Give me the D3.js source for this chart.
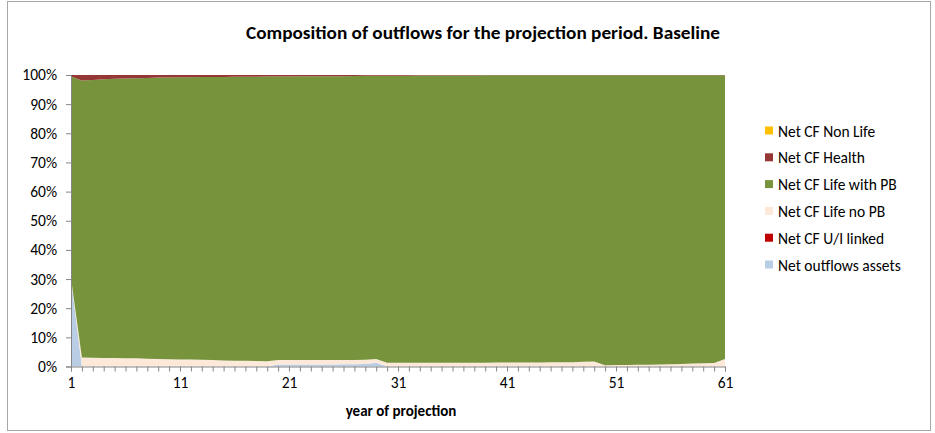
<!DOCTYPE html>
<html><head><meta charset="utf-8">
<script src="https://cdn.jsdelivr.net/npm/d3@7/dist/d3.min.js"></script>
<style>
body{margin:0;background:#fff;}
text{font-family:Carlito,Calibri,Lato,sans-serif;fill:#000;}
</style></head>
<body><svg id="c" width="935" height="433"></svg>
<script>
const years = d3.range(1, 62);
const xTickLabels = [1, 11, 21, 31, 41, 51, 61];
const yTickValues = [0, 0.1, 0.2, 0.3, 0.4, 0.5, 0.6, 0.7, 0.8, 0.9, 1.0];
const seriesNames = ["Net outflows assets", "Net CF U/I linked", "Net CF Life no PB", "Net CF Life with PB", "Net CF Health", "Net CF Non Life"];

const netOutflowsAssets = [30,0,0,0,0,0,0,0,0,0, 0,0,0,0,0,0,0,0,0,0.7, 0.7,0.7,0.7,0.7,0.7,0.8,0.8,0.9,1.3,0, 0,0,0,0,0,0,0,0,0,0, 0,0,0,0,0,0,0,0,0,0, 0,0,0,0,0,0,0,0,0,0, 0];
const netCFUILinked = [0.1,0,0,0,0,0,0,0,0,0, 0,0,0,0,0,0,0,0,0,0, 0,0,0,0,0,0,0,0,0,0, 0,0,0,0,0,0,0,0,0,0, 0,0,0,0,0,0,0,0,0,0, 0,0,0,0,0,0,0,0,0,0, 0];
const netCFLifeNoPB = [0.3,3.1,3.0,2.9,2.9,2.8,2.8,2.7,2.6,2.5, 2.4,2.4,2.3,2.2,2.1,2.0,2.0,1.9,1.8,1.5, 1.5,1.5,1.5,1.5,1.5,1.4,1.4,1.4,1.3,1.3, 1.3,1.3,1.3,1.3,1.3,1.3,1.3,1.3,1.3,1.4, 1.4,1.4,1.4,1.4,1.5,1.5,1.5,1.6,1.7,0.4, 0.5,0.5,0.6,0.6,0.7,0.8,0.9,1.0,1.1,1.2, 2.6];
const netCFLifeWithPB = [69.1,95.0,95.3,95.6,95.8,96.0,96.1,96.3,96.5,96.6, 96.8,96.8,97.0,97.1,97.2,97.4,97.4,97.5,97.7,97.3, 97.3,97.4,97.4,97.4,97.4,97.4,97.5,97.4,97.1,98.4, 98.4,98.4,98.5,98.5,98.5,98.5,98.5,98.5,98.6,98.5, 98.5,98.5,98.5,98.5,98.4,98.4,98.4,98.3,98.2,99.5, 99.45,99.45,99.35,99.35,99.25,99.15,99.05,98.95,98.85,98.75, 97.35];
const netCFHealth = [0.5,1.9,1.7,1.5,1.3,1.2,1.1,1.0,0.9,0.9, 0.8,0.8,0.7,0.7,0.7,0.6,0.6,0.6,0.5,0.5, 0.5,0.4,0.4,0.4,0.4,0.4,0.3,0.3,0.3,0.3, 0.3,0.3,0.2,0.2,0.2,0.2,0.2,0.2,0.1,0.1, 0.1,0.1,0.1,0.1,0.1,0.1,0.1,0.1,0.1,0.1, 0.05,0.05,0.05,0.05,0.05,0.05,0.05,0.05,0.05,0.05, 0.05];
const netCFNonLife = years.map(() => 0);
const colors = ["#B9CDE5", "#C00000", "#FDE9D9", "#77933C", "#953735", "#FFC000"];

const seriesValues = [netOutflowsAssets, netCFUILinked, netCFLifeNoPB, netCFLifeWithPB, netCFHealth, netCFNonLife];
const table = years.map((y, i) => {
  const row = {year: y};
  seriesNames.forEach((n, k) => row[n] = seriesValues[k][i]);
  return row;
});

const svg = d3.select("#c");
// outer frame
svg.append("rect").attr("x", 7.5).attr("y", 1.5).attr("width", 923).attr("height", 429)
  .attr("fill", "#fff").attr("stroke", "#A6A6A6").attr("stroke-width", 1);

const L = 71, R = 725, T = 75, B = 366.5;
const x = d3.scaleLinear().domain([1, 61]).range([L, R]);
const y = d3.scaleLinear().domain([0, 1]).range([B, T]);

const stack = d3.stack().keys(seriesNames).offset(d3.stackOffsetExpand);
const layers = stack(table);
const area = d3.area().x(d => x(d.data.year)).y0(d => y(d[0])).y1(d => y(d[1]));

svg.append("g").selectAll("path").data(layers).join("path")
  .attr("d", area).attr("fill", (d, i) => colors[i]);

// axes
const yAxis = svg.append("g").attr("transform", `translate(${L},0)`)
  .call(d3.axisLeft(y).tickValues(yTickValues).tickFormat(d3.format(".0%")).tickSize(5).tickPadding(9));
const xAxis = svg.append("g").attr("transform", `translate(0,${B})`)
  .call(d3.axisBottom(x).tickValues(years).tickSize(5).tickPadding(5)
    .tickFormat(d => xTickLabels.includes(d) ? d : ""));
[yAxis, xAxis].forEach(g => {
  g.select(".domain").attr("stroke", "#868686");
  g.selectAll(".tick line").attr("stroke", "#868686");
  g.selectAll("text").attr("font-size", 15.5).style("font-family", "Carlito,Calibri,Lato,sans-serif");
});

// title
svg.append("text").attr("x", 483).attr("y", 39).attr("text-anchor", "middle")
  .attr("font-size", 18).attr("font-weight", "bold")
  .attr("textLength", 474).attr("lengthAdjust", "spacingAndGlyphs")
  .text("Composition of outflows for the projection period. Baseline");
svg.append("text").attr("x", 401).attr("y", 416).attr("text-anchor", "middle")
  .attr("font-size", 15).attr("font-weight", "bold").text("year of projection");

// legend
const legendOrder = seriesNames.map((n, i) => ({n, c: colors[i]})).reverse();
const lg = svg.append("g");
legendOrder.forEach((d, i) => {
  const yy = 131 + i * 26.8;
  lg.append("rect").attr("x", 765).attr("y", yy - 4.5).attr("width", 8).attr("height", 8).attr("fill", d.c);
  lg.append("text").attr("x", 778).attr("y", yy + 5.5).attr("font-size", 15.5).text(d.n);
});
</script></body></html>
